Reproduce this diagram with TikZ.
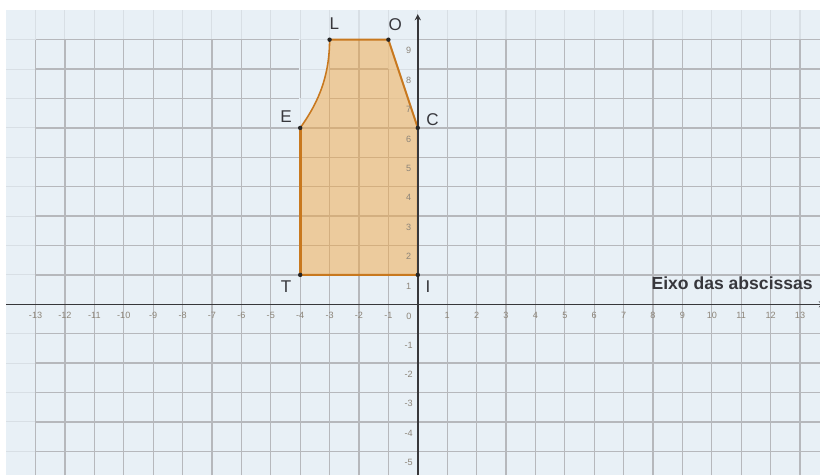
\documentclass[tikz,border=0pt]{standalone}
\usepackage{fontspec}
\setmainfont{Liberation Sans}
\usetikzlibrary{arrows.meta}
\definecolor{bgblue}{RGB}{232,240,246}
\definecolor{gridgray}{RGB}{182,184,188}
\definecolor{gridfaint}{RGB}{216,223,229}
\definecolor{polyfill}{RGB}{240,168,70}
\definecolor{polyline}{RGB}{200,120,30}
\definecolor{axiscol}{RGB}{55,55,58}
\definecolor{labcol}{RGB}{55,55,60}
\definecolor{tickcol}{RGB}{140,132,120}
\begin{document}
\begin{tikzpicture}[x=1cm,y=1cm,
  gridline/.style={draw=gridgray,line width=1.3pt},
  faintline/.style={draw=gridfaint,line width=1pt},
  edge/.style={draw=polyline,line width=1.9pt,line cap=round,line join=round},
  axisline/.style={draw=axiscol,line width=1.5pt,-{Stealth[length=6pt,width=6pt]}},
  ptlabel/.style={text=labcol,font=\fontsize{16.5}{18}\selectfont,inner sep=0pt},
  xtick/.style={text=tickcol,font=\fontsize{8.8}{10}\selectfont,inner sep=0pt},
  ytick/.style={text=tickcol,font=\fontsize{8.8}{10}\selectfont,inner sep=0pt},
  dot/.style={fill=black!85}]
\useasboundingbox (-14.21,-5.81) rectangle (13.68,10.35);
\fill[white] (-14.21,-5.81) rectangle (13.68,10.35);
\fill[bgblue] (-14,-5.81) rectangle (13.68,10);
% faint grid everywhere
\foreach \x in {-13,...,13} \draw[faintline] (\x,-5.81) -- (\x,10);
\foreach \y in {-5,...,9} \draw[faintline] (-14,\y) -- (13.68,\y);
% gray grid
\foreach \x in {-13,...,13} \draw[gridline] (\x,-5.81) -- (\x,9);
\foreach \y in {-5,...,9} \draw[gridline] (-13,\y) -- (13.68,\y);
% faint patches near the shape
\fill[bgblue] (-4.03,6.025) rectangle (-3,9.025);
\draw[faintline] (-4,6.025) -- (-4,7);
\draw[faintline] (-4,7) -- (-3,7);
\draw[faintline] (-4,8) -- (-3,8);
\draw[faintline] (-4,9) -- (-3,9);
\draw[gridline] (-4,7) -- (-4,9);
\draw[gridline] (-3,6) -- (-3,9);
\fill[bgblue] (-1.03,6.025) rectangle (0,9.025);
\draw[faintline] (-1,8) -- (-1,9);
\draw[faintline] (-1,7) -- (0,7);
\draw[faintline] (-1,8) -- (0,8);
\draw[faintline] (-1,9) -- (0,9);
\draw[gridline] (-1,6) -- (-1,8);
% vertices
\coordinate (T) at (-4,1);
\coordinate (I) at (0,1);
\coordinate (C) at (0,6);
\coordinate (O) at (-1,9);
\coordinate (L) at (-3,9);
\coordinate (E) at (-4,6);
% shape
\fill[polyfill,fill opacity=0.5] (T) -- (I) -- (C) -- (O) -- (L)
  .. controls (-3,7.6) and (-3.5,6.7) .. (E) -- cycle;
\draw[edge] (T) -- (I) -- (C) -- (O) -- (L);
\draw[edge,line width=1.5pt] (L) .. controls (-3,7.6) and (-3.5,6.7) .. (E);
\draw[edge,line width=2.6pt] (E) -- (T);
% axes
\coordinate (xa) at (-14,0);
\coordinate (xb) at (13.85,0);
\coordinate (ya) at (0,-5.81);
\coordinate (yb) at (0,9.87);
\draw[axisline] (xa) -- (xb);
\draw[axisline] (ya) -- (yb);
% dots
\foreach \p in {T,I,C,O,L,E} \fill[dot] (\p) circle (0.075);
% vertex labels
\node[ptlabel] (lL) at (-2.84,9.53) {L};
\node[ptlabel] (lO) at (-0.77,9.52) {O};
\node[ptlabel] (lE) at (-4.48,6.39) {E};
\node[ptlabel] (lC) at (0.5,6.27) {C};
\node[ptlabel] (lT) at (-4.48,0.61) {T};
\node[ptlabel] (lI) at (0.35,0.61) {I};
\node[text=labcol,font=\fontsize{17}{19}\selectfont\bfseries,inner sep=0pt,anchor=base east] (axlab) at (13.44,0.49) {Eixo das abscissas};
% tick labels
\foreach \k in {-13,...,-1,1,2,...,13} \node[xtick] (xt\k) at (\k,-0.38) {\k};
\node[ytick] (zero) at (-0.3,-0.42) {0};
\foreach \k in {-5,...,-1,1,2,...,9} \node[ytick] (yt\k) at (-0.31,\k-0.38) {\k};
\end{tikzpicture}
\end{document}
